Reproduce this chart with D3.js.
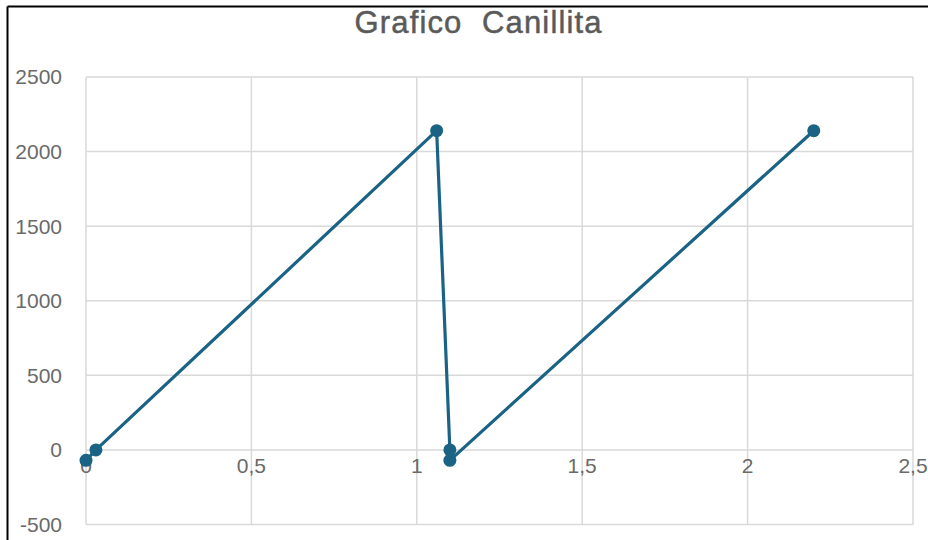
<!DOCTYPE html>
<html>
<head>
<meta charset="utf-8">
<script src="https://cdn.jsdelivr.net/npm/d3@7"></script>
<style>
  html, body { margin: 0; padding: 0; background: #fff; }
  svg { display: block; }
  text { font-family: "Liberation Sans", Arial, sans-serif; fill: #6a6a6a; }
</style>
</head>
<body>
<svg id="chart" width="928" height="540"></svg>
<script>
// Series: time (x) and amount (y) for the Canillita chart
const xValues = [0, 0.03, 1.06, 1.1, 1.1, 2.2];
const yValues = [-70, 0, 2140, 0, -70, 2140];

// Axis ticks
const xTicks = [0, 0.5, 1, 1.5, 2, 2.5];
const xTickLabels = ["0", "0,5", "1", "1,5", "2", "2,5"];
const yTicks = [-500, 0, 500, 1000, 1500, 2000, 2500];
const yTickLabels = ["-500", "0", "500", "1000", "1500", "2000", "2500"];

const title = "Grafico  Canillita";

const svg = d3.select("#chart");
const W = 928, H = 540;

const x = d3.scaleLinear().domain([0, 2.5]).range([86, 913]);
const y = d3.scaleLinear().domain([-500, 2500]).range([524.5, 77]);

// outer frame (top and left edges)
svg.append("line").attr("x1", 7.5).attr("x2", W).attr("y1", 6.5).attr("y2", 6.5)
  .attr("stroke", "#000").attr("stroke-width", 2);
svg.append("line").attr("x1", 7.5).attr("x2", 7.5).attr("y1", 6.5).attr("y2", H)
  .attr("stroke", "#000").attr("stroke-width", 2);

// title
svg.append("text")
  .attr("x", 478).attr("y", 33)
  .attr("text-anchor", "middle")
  .attr("font-size", 31)
  .style("white-space", "pre")
  .style("fill", "#5a5a5a")
  .style("stroke", "#5a5a5a")
  .style("stroke-width", 0.5)
  .attr("textLength", 247)
  .attr("lengthAdjust", "spacing")
  .text(title);

// gridlines
const grid = svg.append("g").attr("stroke", "#d9d9d9").attr("stroke-width", 1.5);
grid.selectAll("line.h").data(yTicks).join("line")
  .attr("class", "h")
  .attr("x1", x(0)).attr("x2", x(2.5))
  .attr("y1", d => y(d)).attr("y2", d => y(d));
grid.selectAll("line.v").data(xTicks).join("line")
  .attr("class", "v")
  .attr("x1", d => x(d)).attr("x2", d => x(d))
  .attr("y1", y(2500)).attr("y2", y(-500));

// y tick labels
svg.append("g").selectAll("text").data(yTicks).join("text")
  .attr("x", 62)
  .attr("y", d => y(d))
  .attr("dy", "0.35em")
  .attr("text-anchor", "end")
  .attr("font-size", 21)
  .text((d, i) => yTickLabels[i]);

// x tick labels, placed along the zero line
svg.append("g").selectAll("text").data(xTicks).join("text")
  .attr("x", d => x(d))
  .attr("y", y(0) + 23)
  .attr("text-anchor", "middle")
  .attr("font-size", 21)
  .text((d, i) => xTickLabels[i]);

// series line and markers
const pts = xValues.map((v, i) => [v, yValues[i]]);
const color = "#1b6384";

svg.append("path")
  .datum(pts)
  .attr("fill", "none")
  .attr("stroke", color)
  .attr("stroke-width", 3.2)
  .attr("stroke-linejoin", "round")
  .attr("d", d3.line().x(d => x(d[0])).y(d => y(d[1])));

svg.append("g").selectAll("circle").data(pts).join("circle")
  .attr("cx", d => x(d[0]))
  .attr("cy", d => y(d[1]))
  .attr("r", 6.5)
  .attr("fill", color);
</script>
</body>
</html>
